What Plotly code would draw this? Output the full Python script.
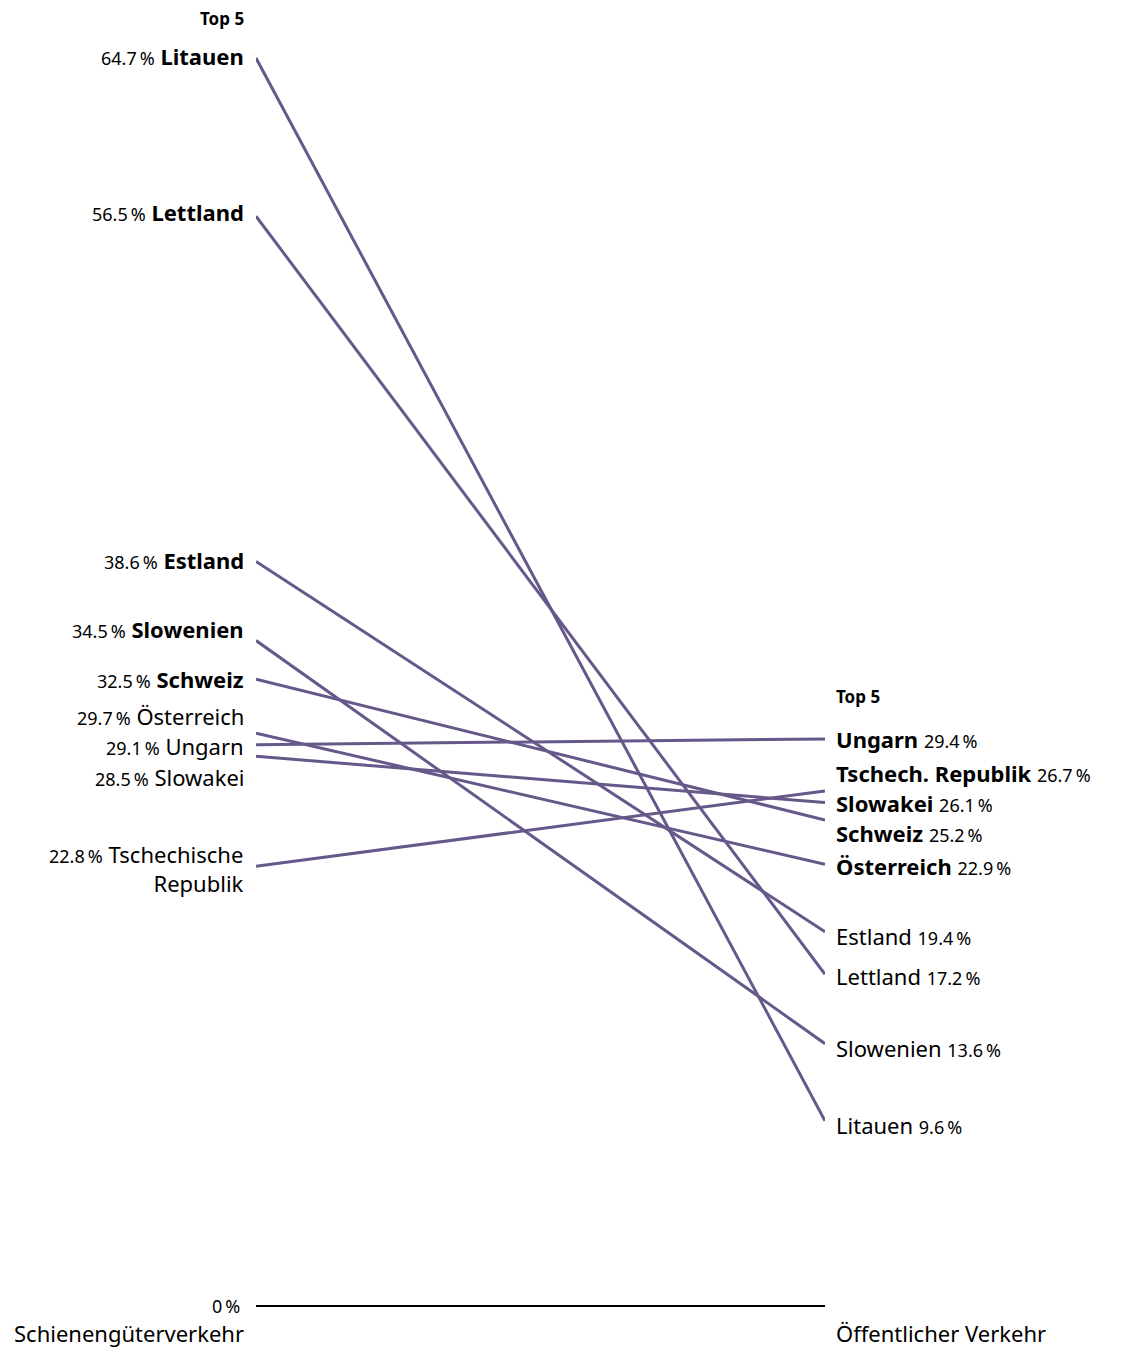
import plotly.graph_objects as go

countries_left = ["Litauen", "Lettland", "Estland", "Slowenien", "Schweiz",
                  "Österreich", "Ungarn", "Slowakei", "Tschechische<br>Republik"]
countries_right = ["Litauen", "Lettland", "Estland", "Slowenien", "Schweiz",
                   "Österreich", "Ungarn", "Slowakei", "Tschech. Republik"]
rail_freight = [64.7, 56.5, 38.6, 34.5, 32.5, 29.7, 29.1, 28.5, 22.8]
public_transport = [9.6, 17.2, 19.4, 13.6, 25.2, 22.9, 29.4, 26.1, 26.7]
top5_left = ["Litauen", "Lettland", "Estland", "Slowenien", "Schweiz"]
top5_right = ["Ungarn", "Tschech. Republik", "Slowakei", "Schweiz", "Österreich"]
axis_labels = ["Schienengüterverkehr", "Öffentlicher Verkehr"]

# label placement (data units) to avoid overlaps
left_label_pos = [64.8, 56.7, 38.7, 35.1, 32.5, 30.6, 29.03, 27.45, 22.7]
right_label_pos = [9.4, 17.1, 19.2, 13.4, 24.5, 22.8, 29.4, 26.08, 27.65]

LINE = "#67588a"
FONT = "Noto Sans"
NAME_SIZE = 22
PCT_SIZE = 18

fig = go.Figure()
for i in range(len(rail_freight)):
    fig.add_trace(go.Scatter(x=[0, 1], y=[rail_freight[i], public_transport[i]],
                             mode="lines", line=dict(color=LINE, width=3),
                             hoverinfo="skip", showlegend=False, cliponaxis=False))
fig.add_trace(go.Scatter(x=[0, 1], y=[0, 0], mode="lines",
                         line=dict(color="black", width=2),
                         hoverinfo="skip", showlegend=False, cliponaxis=False))

def pct(v):
    return f"<span style='font-size:{PCT_SIZE}px'>{v:.1f}\u202f%</span>"

ann = []
for i, name in enumerate(countries_left):
    nm = f"<b>{name}</b>" if name in top5_left else name
    ann.append(dict(x=0, y=left_label_pos[i], xref="x", yref="y", xanchor="right",
                    yanchor="middle", xshift=-10, showarrow=False, align="right",
                    text=f"{pct(rail_freight[i])} {nm}",
                    font=dict(family=FONT, size=NAME_SIZE, color="black")))
for i, name in enumerate(countries_right):
    nm = f"<b>{name}</b>" if name in top5_right else name
    ann.append(dict(x=1, y=right_label_pos[i], xref="x", yref="y", xanchor="left",
                    yanchor="middle", xshift=9, showarrow=False, align="left",
                    text=f"{nm} {pct(public_transport[i])}",
                    font=dict(family=FONT, size=NAME_SIZE, color="black")))
ann.append(dict(x=0, y=66.75, xref="x", yref="y", xanchor="right", yanchor="middle",
                xshift=-10, showarrow=False, text="<b>Top 5</b>",
                font=dict(family=FONT, size=17, color="black")))
ann.append(dict(x=1, y=31.6, xref="x", yref="y", xanchor="left", yanchor="middle",
                xshift=9, showarrow=False, text="<b>Top 5</b>",
                font=dict(family=FONT, size=17, color="black")))
ann.append(dict(x=0, y=0, xref="x", yref="y", xanchor="right", yanchor="middle",
                xshift=-14, showarrow=False, text="0\u202f%",
                font=dict(family=FONT, size=PCT_SIZE, color="black")))
ann.append(dict(x=0, y=-1.4, xref="x", yref="y", xanchor="right", yanchor="middle",
                xshift=-10, showarrow=False, text=axis_labels[0],
                font=dict(family=FONT, size=NAME_SIZE, color="black")))
ann.append(dict(x=1, y=-1.4, xref="x", yref="y", xanchor="left", yanchor="middle",
                xshift=9, showarrow=False, text=axis_labels[1],
                font=dict(family=FONT, size=NAME_SIZE, color="black")))

fig.update_layout(
    width=1115, height=1345,
    margin=dict(l=248, r=298, t=2, b=1),
    paper_bgcolor="white", plot_bgcolor="white",
    xaxis=dict(range=[0, 1], visible=False, fixedrange=True),
    yaxis=dict(range=[-2.385, 67.19], visible=False, fixedrange=True),
    annotations=ann,
    font=dict(family=FONT),
)
fig.write_html("out.html")
